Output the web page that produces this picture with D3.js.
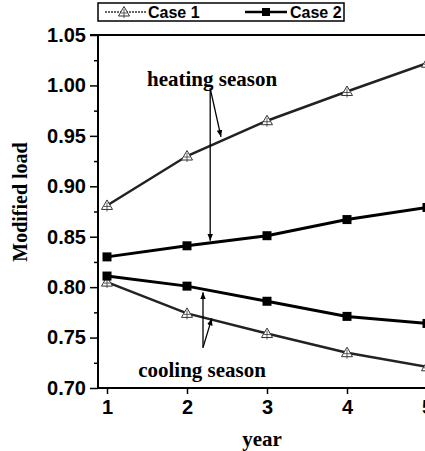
<!DOCTYPE html>
<html>
<head>
<meta charset="utf-8">
<script src="https://cdn.jsdelivr.net/npm/d3@7"></script>
<style>
  body { margin: 0; background: #fff; }
  svg { display: block; }
</style>
</head>
<body>
<div id="chart"></div>
<script>
// data
var years = [1, 2, 3, 4, 5];
var case1Heating = [0.881, 0.930, 0.965, 0.994, 1.022];
var case2Heating = [0.830, 0.841, 0.851, 0.867, 0.879];
var case2Cooling = [0.811, 0.801, 0.786, 0.771, 0.764];
var case1Cooling = [0.805, 0.774, 0.754, 0.735, 0.721];
var yTicks = [0.70, 0.75, 0.80, 0.85, 0.90, 0.95, 1.00, 1.05];
var seriesNames = ["Case 1", "Case 2"];

var width = 425;
var height = 451;

var svg = d3.select("#chart")
  .append("svg")
  .attr("width", width)
  .attr("height", height);

// scales (plot runs off the right edge like the scan)
var x = d3.scaleLinear()
  .domain([0.8875, 5.1125])
  .range([98, 436]);

var y = d3.scaleLinear()
  .domain([0.70, 1.05])
  .range([388, 35]);

var serif = "'Liberation Serif', 'Times New Roman', serif";
var sans = "'Liberation Sans', Arial, sans-serif";

// arrowhead
svg.append("defs").append("marker")
  .attr("id", "arrow")
  .attr("viewBox", "0 0 10 10")
  .attr("refX", 10)
  .attr("refY", 5)
  .attr("markerWidth", 7)
  .attr("markerHeight", 7)
  .attr("markerUnits", "userSpaceOnUse")
  .attr("orient", "auto")
  .append("path")
  .attr("d", "M0,1 L10,5 L0,9 Z")
  .attr("fill", "#000");

// y axis with minor ticks
var yMinor = d3.range(0.725, 1.05, 0.05);
svg.append("g")
  .attr("transform", "translate(" + x.range()[0] + ",0)")
  .call(d3.axisLeft(y).tickValues(yMinor).tickSize(4).tickFormat(""))
  .call(g => g.select(".domain").remove())
  .selectAll("line").attr("stroke-width", 1.5);

svg.append("g")
  .attr("transform", "translate(" + x.range()[0] + ",0)")
  .call(d3.axisLeft(y).tickValues(yTicks).tickSize(8).tickPadding(4).tickFormat(d3.format(".2f")))
  .call(g => g.select(".domain").attr("stroke-width", 2).attr("d", "M0," + y(0.70) + "V" + y(1.05)))
  .call(g => g.selectAll(".tick line").attr("stroke-width", 1.5))
  .selectAll("text")
  .style("font-family", sans)
  .style("font-weight", "bold")
  .style("font-size", "20px")
  .style("fill", "#000");

// x axis
svg.append("g")
  .attr("transform", "translate(0," + y(0.70) + ")")
  .call(d3.axisBottom(x).tickValues(years).tickSize(6).tickPadding(6).tickFormat(d3.format("d")))
  .call(g => g.select(".domain").attr("stroke-width", 2).attr("d", "M" + x.range()[0] + ",0H" + x.range()[1]))
  .call(g => g.selectAll(".tick line").attr("stroke-width", 1.5))
  .selectAll("text")
  .style("font-family", sans)
  .style("font-weight", "bold")
  .style("font-size", "20px")
  .style("fill", "#000");

// top frame
svg.append("line")
  .attr("x1", x.range()[0] - 8)
  .attr("x2", x.range()[1])
  .attr("y1", y(1.05))
  .attr("y2", y(1.05))
  .attr("stroke", "#000")
  .attr("stroke-width", 2);

// lines
var line = d3.line()
  .x(function (d, i) { return x(years[i]); })
  .y(function (d) { return y(d); });

var case1 = [case1Heating, case1Cooling];
var case2 = [case2Heating, case2Cooling];

case1.forEach(function (s) {
  svg.append("path")
    .datum(s)
    .attr("d", line)
    .attr("fill", "none")
    .attr("stroke", "#222")
    .attr("stroke-width", 2.5);
});

case2.forEach(function (s) {
  svg.append("path")
    .datum(s)
    .attr("d", line)
    .attr("fill", "none")
    .attr("stroke", "#000")
    .attr("stroke-width", 3);
});

// open triangle marker for case 1
function triangle(g, cx, cy) {
  g.append("path")
    .attr("d", "M" + cx + "," + (cy - 5.5) + "L" + (cx + 5.5) + "," + (cy + 4) + "L" + (cx - 5.5) + "," + (cy + 4) + "Z")
    .attr("fill", "#fff")
    .attr("stroke", "#333")
    .attr("stroke-width", 1);
  g.append("path")
    .attr("d", "M" + cx + "," + (cy - 3) + "V" + (cy + 6) + "M" + (cx - 3) + "," + (cy + 1) + "H" + (cx + 3))
    .attr("stroke", "#333")
    .attr("stroke-width", 0.8);
}

case1.forEach(function (s) {
  s.forEach(function (v, i) {
    triangle(svg, x(years[i]), y(v));
  });
});

case2.forEach(function (s) {
  svg.selectAll(null)
    .data(s)
    .enter()
    .append("rect")
    .attr("x", function (d, i) { return x(years[i]) - 4.5; })
    .attr("y", function (d) { return y(d) - 4.5; })
    .attr("width", 9)
    .attr("height", 9)
    .attr("fill", "#000");
});

// annotations
var arrows = [
  { from: [2.29, 0.997], to: [2.425, 0.949] },
  { from: [2.29, 0.997], to: [2.29, 0.846] },
  { from: [2.2, 0.740], to: [2.2, 0.795] },
  { from: [2.2, 0.740], to: [2.31, 0.769] }
];

svg.selectAll("line.arrow")
  .data(arrows)
  .enter()
  .append("line")
  .attr("class", "arrow")
  .attr("x1", d => x(d.from[0]))
  .attr("y1", d => y(d.from[1]))
  .attr("x2", d => x(d.to[0]))
  .attr("y2", d => y(d.to[1]))
  .attr("stroke", "#000")
  .attr("stroke-width", 1.3)
  .attr("marker-end", "url(#arrow)");

svg.append("text")
  .attr("x", x(1.5))
  .attr("y", y(1.0)+1)
  .style("font-family", serif)
  .style("font-weight", "bold")
  .style("font-size", "21px")
  .text("heating season");

svg.append("text")
  .attr("x", x(1.39))
  .attr("y", y(0.7107))
  .style("font-family", serif)
  .style("font-weight", "bold")
  .style("font-size", "21px")
  .text("cooling season");

// axis titles
svg.append("text")
  .attr("transform", "translate(27,202) rotate(-90)")
  .attr("text-anchor", "middle")
  .style("font-family", serif)
  .style("font-weight", "bold")
  .style("font-size", "20px")
  .text("Modified load");

svg.append("text")
  .attr("x", 262)
  .attr("y", 446)
  .attr("text-anchor", "middle")
  .style("font-family", serif)
  .style("font-weight", "bold")
  .style("font-size", "21px")
  .text("year");

// legend
var legend = svg.append("g");
legend.append("rect")
  .attr("x", 98)
  .attr("y", 3)
  .attr("width", 246)
  .attr("height", 18)
  .attr("fill", "#fff")
  .attr("stroke", "#000")
  .attr("stroke-width", 1.5);

legend.append("line")
  .attr("x1", 105).attr("x2", 146)
  .attr("y1", 12).attr("y2", 12)
  .attr("stroke", "#333")
  .attr("stroke-width", 1.5)
  .attr("stroke-dasharray", "2,1");
triangle(legend, 124, 12);

legend.append("line")
  .attr("x1", 245).attr("x2", 287)
  .attr("y1", 12).attr("y2", 12)
  .attr("stroke", "#000")
  .attr("stroke-width", 2.5);
legend.append("rect")
  .attr("x", 262).attr("y", 8)
  .attr("width", 8).attr("height", 8)
  .attr("fill", "#000");

legend.selectAll("text")
  .data(seriesNames)
  .enter()
  .append("text")
  .attr("x", (d, i) => i === 0 ? 148 : 290)
  .attr("y", 18)
  .style("font-family", sans)
  .style("font-weight", "bold")
  .style("font-size", "16px")
  .text(d => d);
</script>
</body>
</html>
